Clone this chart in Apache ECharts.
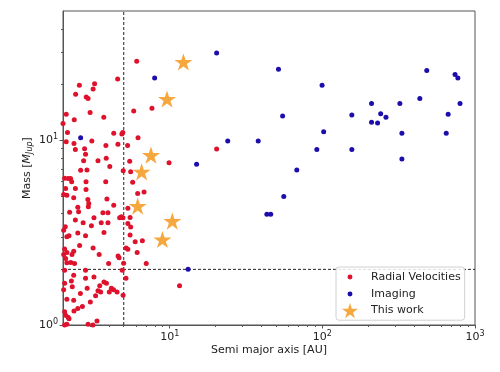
<!DOCTYPE html>
<html>
<head>
<meta charset="utf-8">
<script src="https://cdn.jsdelivr.net/npm/echarts@6/dist/echarts.min.js"></script>
<style>
html,body{margin:0;padding:0;background:#fff;}
#chart{width:500px;height:372px;}
</style>
</head>
<body>
<div id="chart"></div>
<script>
// Radial velocity planets: [semi major axis AU, mass Mjup]
const rvPoints = [
[6.08,26.7],[4.56,21.4],[2.56,19.8],[3.22,20.2],[3.15,18.9],[2.42,17.7],[2.84,17.1],[2.92,16.8],
[7.65,14.9],[5.81,14.4],[3.01,14.1],[2.10,13.8],[3.70,13.3],[2.37,12.9],[2.0,12.3],[2.14,11.0],
[4.30,10.9],[4.93,11.0],[4.86,10.8],[6.20,10.3],[3.09,9.9],[2.10,9.8],[2.36,9.6],[3.82,9.35],
[4.58,9.5],[5.30,9.35],[2.41,8.9],[2.77,9.0],[2.81,8.4],[20.3,8.95],[3.84,7.98],[2.73,7.73],
[3.39,7.73],[4.05,7.2],[5.47,7.7],[9.9,7.54],[2.61,6.88],[2.87,6.9],[4.96,6.83],[5.55,6.74],
[2.05,6.23],[2.16,6.2],[2.24,6.2],[2.28,5.95],[2.83,5.95],[3.81,5.95],[5.72,5.93],[2.08,5.48],
[2.41,5.48],[2.83,5.41],[2.02,5.08],[2.12,5.04],[2.35,4.88],[2.91,4.77],[2.95,4.54],[3.88,4.80],
[4.30,4.45],[2.50,4.34],[2.53,4.10],[2.21,4.07],[2.93,4.36],[3.65,4.05],[3.94,4.05],[3.19,3.80],
[4.70,3.80],[4.82,3.85],[4.94,3.80],[5.32,4.28],[5.50,3.82],[5.32,3.54],[5.55,3.39],[2.41,3.70],
[2.71,3.57],[3.07,3.44],[3.56,3.57],[3.94,3.57],[2.07,3.40],[2.02,3.26],[2.50,3.15],[2.81,3.04],
[3.71,3.17],[2.12,3.0],[2.19,3.04],[5.50,3.07],[5.94,2.82],[6.62,2.86],[2.57,2.69],[3.15,2.61],
[3.45,2.41],[4.59,2.36],[4.66,2.31],[5.18,2.61],[5.32,2.57],[6.12,2.47],[7.02,2.15],[2.05,2.58],
[2.12,2.47],[2.02,2.41],[2.29,2.41],[2.35,2.51],[2.08,2.29],[2.25,2.18],[2.12,2.17],[2.38,2.15],
[3.98,2.15],[4.99,2.16],[2.05,1.98],[2.81,1.98],[4.89,1.98],[2.35,1.86],[2.81,1.79],[3.19,1.82],
[2.27,1.73],[2.05,1.68],[3.71,1.71],[3.85,1.68],[3.48,1.63],[4.15,1.58],[4.29,1.55],[4.02,1.51],
[3.39,1.53],[3.53,1.51],[4.52,1.51],[5.17,1.79],[2.30,1.61],[2.02,1.55],[2.60,1.48],[2.88,1.58],
[3.27,1.44],[4.95,1.45],[2.12,1.38],[2.35,1.36],[3.02,1.33],[2.68,1.26],[2.36,1.19],[2.05,1.18],
[2.08,1.13],[2.16,1.10],[2.19,1.08],[2.50,1.23],[2.92,1.01],[3.34,1.05],[3.14,1.0],[2.12,1.01],
[2.05,1.0],[6.79,5.25],[6.17,5.15],[11.6,1.63]
];
// Imaging planets
const imagingPoints = [
[20.3,29.6],[7.97,21.7],[2.61,10.3],[24.0,9.9],[15.0,7.42],[13.2,2.0],[51.6,24.2],[99.6,19.8],
[54.9,13.5],[38.0,9.9],[156,13.7],[210,15.8],[322,15.8],[483,23.8],[435,16.8],[740,22.7],
[772,21.7],[798,15.8],[667,13.8],[648,10.9],[210,12.5],[230,12.4],[241,13.9],[261,13.3],
[332,10.9],[332,7.9],[102,11.1],[92,8.9],[156,8.9],[68,6.9],[55.9,4.96],[43.3,3.97],[45.9,3.97]
];
// This work
const thisWorkPoints = [
[12.3,26.5],[9.6,16.7],[7.54,8.30],[6.55,6.74],[6.17,4.40],[10.4,3.65],[8.96,2.90]
];
const seriesNames = ['Radial Velocities','Imaging','This work'];
const xRange = [2, 1000];
const yRange = [1, 50];
const xMajorTicks = [10, 100, 1000];
const xMinorTicks = [2,3,4,5,6,7,8,9,20,30,40,50,60,70,80,90,200,300,400,500,600,700,800,900];
const yMajorTicks = [1, 10];
const yMinorTicks = [2,3,4,5,6,7,8,9,20,30,40];
const rvLimitAU = 5;
const massLimit = 2;

const starPath = 'path://M50,0L61.2,34.5L97.6,34.5L68.2,55.9L79.4,90.5L50,69.1L20.6,90.5L31.8,55.9L2.4,34.5L38.8,34.5Z';
const dotIcon = 'path://M0,0M20,20M10,6.9A3.1,3.1,0,1,1,9.99,6.9Z';

const RED = 'rgb(222,18,45)';
const BLUE = 'rgb(28,14,172)';
const ORANGE = 'rgb(245,162,52)';
const FRAME = '#555';

const supFmt = v => '{b|10}{s|' + Math.round(Math.log10(v)) + '}';
const tickRich = {
  b: {fontSize: 11, fontFamily: 'DejaVu Sans', color: '#222', lineHeight: 14},
  s: {fontSize: 8, fontFamily: 'DejaVu Sans', color: '#222', lineHeight: 14, verticalAlign: 'top', padding:[0,0,4,0]}
};

const chart = echarts.init(document.getElementById('chart'), null, {renderer: 'canvas'});
chart.setOption({
  animation: false,
  backgroundColor: '#fff',
  textStyle: {fontFamily: 'DejaVu Sans'},
  grid: {left: 63, right: 25, top: 11, bottom: 47, show: true, borderColor: FRAME, borderWidth: 1, backgroundColor: 'transparent'},
  legend: {
    data: [
      {name: seriesNames[0], icon: dotIcon},
      {name: seriesNames[1], icon: dotIcon},
      {name: seriesNames[2], icon: starPath}
    ],
    orient: 'vertical',
    left: 336, top: 267,
    padding: [2, 4, 2, 6],
    itemWidth: 16, itemHeight: 16, itemGap: 1,
    backgroundColor: 'rgba(255,255,255,0.85)',
    borderColor: '#d0d0d0', borderWidth: 1, borderRadius: 3,
    textStyle: {fontSize: 11, color: '#222', fontFamily: 'DejaVu Sans', padding: [0,0,0,8]},
    selectedMode: false
  },
  xAxis: [{
    type: 'log', logBase: 10, min: xRange[0], max: xRange[1],
    name: 'Semi major axis [AU]', nameLocation: 'middle', nameGap: 20, nameMoveOverlap: false,
    nameTextStyle: {fontSize: 11, color: '#222', fontFamily: 'DejaVu Sans'},
    axisLine: {show: true, lineStyle: {color: FRAME, width: 1}},
    axisTick: {show: true, customValues: xMajorTicks, length: 3.5, lineStyle: {color: FRAME}},
    axisLabel: {customValues: xMajorTicks, formatter: supFmt, rich: tickRich, margin: 5},
    splitLine: {show: false}, minorTick: {show: false}
  }, {
    type: 'log', logBase: 10, min: xRange[0], max: xRange[1], position: 'bottom', gridIndex: 0,
    axisLine: {show: false},
    axisTick: {show: true, customValues: xMinorTicks, length: 2, lineStyle: {color: FRAME}},
    axisLabel: {show: false}, splitLine: {show: false}
  }],
  yAxis: [{
    type: 'log', logBase: 10, min: yRange[0], max: yRange[1],
    name: 'Mass [{i|M}{j|Jup}]', nameLocation: 'middle', nameGap: 29, nameMoveOverlap: false,
    nameTextStyle: {fontSize: 11, color: '#222', fontFamily: 'DejaVu Sans',
      rich: {
        i: {fontSize: 11, fontStyle: 'italic', fontFamily: 'DejaVu Sans', color: '#222', lineHeight: 14},
        j: {fontSize: 8, fontStyle: 'italic', fontFamily: 'DejaVu Sans', color: '#222', lineHeight: 14, verticalAlign: 'bottom', padding: [4,0,0,0]}
      }},
    axisLine: {show: true, lineStyle: {color: FRAME, width: 1}},
    axisTick: {show: true, customValues: yMajorTicks, length: 3.5, lineStyle: {color: FRAME}},
    axisLabel: {customValues: yMajorTicks, formatter: supFmt, rich: tickRich, margin: 5},
    splitLine: {show: false}
  }, {
    type: 'log', logBase: 10, min: yRange[0], max: yRange[1], position: 'left', gridIndex: 0,
    axisLine: {show: false},
    axisTick: {show: true, customValues: yMinorTicks, length: 2, lineStyle: {color: FRAME}},
    axisLabel: {show: false}, splitLine: {show: false}
  }],
  series: [
    {
      name: seriesNames[0], type: 'scatter', data: rvPoints, symbol: 'circle', symbolSize: 5,
      itemStyle: {color: RED, opacity: 1}, clip: true, z: 3
    },
    {
      name: seriesNames[1], type: 'scatter', data: imagingPoints, symbol: 'circle', symbolSize: 5,
      itemStyle: {color: BLUE, opacity: 1}, clip: true, z: 3
    },
    {
      name: seriesNames[2], type: 'scatter', data: thisWorkPoints, symbol: starPath, symbolSize: 18,
      symbolKeepAspect: true,
      itemStyle: {color: ORANGE, opacity: 0.95}, clip: true, z: 4
    },
    {
      type: 'line', data: [[rvLimitAU, yRange[0]], [rvLimitAU, yRange[1]]], symbol: 'none', silent: true,
      lineStyle: {color: '#222', width: 1, type: [3, 2]}, z: 2
    },
    {
      type: 'line', data: [[xRange[0], massLimit], [xRange[1], massLimit]], symbol: 'none', silent: true,
      lineStyle: {color: '#222', width: 1, type: [3, 2]}, z: 2
    }
  ]
});
</script>
</body>
</html>
